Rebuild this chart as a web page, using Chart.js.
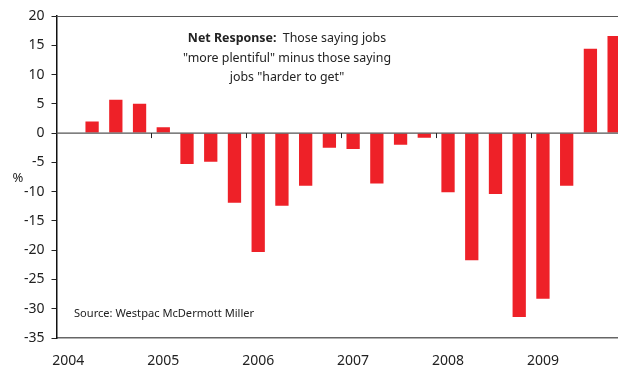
<!DOCTYPE html>
<html>
<head>
<meta charset="utf-8">
<script src="https://cdn.jsdelivr.net/npm/chart.js@4/dist/chart.umd.min.js"></script>
<style>
    html, body { margin: 0; padding: 0; background: #fff; overflow: hidden; }
    .chart-wrap { position: relative; width: 640px; height: 367px; }
</style>
</head>
<body>
<div class="chart-wrap">
    <canvas id="jobsChart"></canvas>
</div>
<script>
// 분기별 (2004 Q1 ~ 2009 Q4)
const quarters = [
    '2004 Q1', '2004 Q2', '2004 Q3', '2004 Q4',
    '2005 Q1', '2005 Q2', '2005 Q3', '2005 Q4',
    '2006 Q1', '2006 Q2', '2006 Q3', '2006 Q4',
    '2007 Q1', '2007 Q2', '2007 Q3', '2007 Q4',
    '2008 Q1', '2008 Q2', '2008 Q3', '2008 Q4',
    '2009 Q1', '2009 Q2', '2009 Q3', '2009 Q4'
];
const yearLabels = ['2004', '', '', '', '2005', '', '', '', '2006', '', '', '',
    '2007', '', '', '', '2008', '', '', '', '2009', '', '', ''];
const netResponse = [null, 2.0, 5.7, 5.0, 1.0, -5.3, -4.9, -11.9, -20.3, -12.4, -9.0, -2.5,
    -2.7, -8.6, -2.0, -0.8, -10.1, -21.7, -10.4, -31.4, -28.3, -9.0, 14.4, 16.6];
const yTicks = [20, 15, 10, 5, 0, -5, -10, -15, -20, -25, -30, -35];

const noteLines = [
    [{ text: 'Net Response:', bold: true }, { text: '  Those saying jobs', bold: false }],
    [{ text: '"more plentiful" minus those saying', bold: false }],
    [{ text: 'jobs "harder to get"', bold: false }]
];
const sourceText = 'Source: Westpac McDermott Miller';

const FONT = '"Noto Sans", "Open Sans", sans-serif';

// 0선 위 연도 구분 눈금, 상단 테두리, 텍스트
const overlayPlugin = {
    id: 'overlay',
    afterDatasetsDraw(chart) {
        const { ctx, chartArea, scales } = chart;
        const x = scales.x, y = scales.y;
        const y0 = y.getPixelForValue(0);
        const half = (x.getPixelForValue(1) - x.getPixelForValue(0)) / 2;

        ctx.save();
        // 상단 테두리
        ctx.strokeStyle = '#555';
        ctx.lineWidth = 1.2;
        ctx.beginPath();
        ctx.moveTo(chartArea.left, chartArea.top + 0.5);
        ctx.lineTo(chartArea.right, chartArea.top + 0.5);
        ctx.stroke();

        // 0선
        ctx.strokeStyle = '#555';
        ctx.lineWidth = 1.2;
        ctx.beginPath();
        ctx.moveTo(chartArea.left, y0);
        ctx.lineTo(chartArea.right, y0);
        ctx.stroke();

        // 연도 경계 눈금
        ctx.strokeStyle = '#222';
        ctx.lineWidth = 1;
        for (let i = 4; i < quarters.length; i += 4) {
            const px = Math.round(x.getPixelForValue(i) - half) + 0.5;
            ctx.beginPath();
            ctx.moveTo(px, y0);
            ctx.lineTo(px, y0 + 5);
            ctx.stroke();
        }

        // % 표시
        ctx.fillStyle = '#222';
        ctx.font = '13px ' + FONT;
        ctx.textAlign = 'center';
        ctx.textBaseline = 'middle';
        ctx.fillText('%', 18, 178);

        // 설명 문구
        const cx = 287;
        noteLines.forEach((parts, li) => {
            let total = 0;
            parts.forEach(p => {
                ctx.font = (p.bold ? 'bold ' : '') + '12.4px ' + FONT;
                p.w = ctx.measureText(p.text).width;
                total += p.w;
            });
            let sx = cx - total / 2;
            ctx.textAlign = 'left';
            parts.forEach(p => {
                ctx.font = (p.bold ? 'bold ' : '') + '12.4px ' + FONT;
                ctx.fillText(p.text, sx, 38.5 + li * 19.5);
                sx += p.w;
            });
        });

        // 출처
        ctx.font = '11.1px ' + FONT;
        ctx.textAlign = 'left';
        ctx.fillText(sourceText, 74, 314);
        ctx.restore();
    }
};

new Chart(document.getElementById('jobsChart'), {
    type: 'bar',
    data: {
        labels: quarters,
        datasets: [{
            data: netResponse,
            backgroundColor: '#EE2128',
            borderWidth: 0,
            categoryPercentage: 1,
            barPercentage: 0.56
        }]
    },
    options: {
        responsive: true,
        maintainAspectRatio: false,
        animation: false,
        layout: { padding: { top: 16, right: 14, left: 0, bottom: 0 } },
        plugins: {
            legend: { display: false },
            tooltip: { enabled: false }
        },
        scales: {
            x: {
                grid: { display: false, drawTicks: false },
                border: { display: true, color: '#666', width: 1.5 },
                ticks: {
                    autoSkip: false,
                    maxRotation: 0,
                    padding: 15,
                    color: '#222',
                    font: { family: FONT, size: 14 },
                    callback: (value, index) => yearLabels[index]
                },
                afterFit: axis => { axis.height = 29; }
            },
            y: {
                min: -35,
                max: 20,
                afterBuildTicks: axis => { axis.ticks = yTicks.map(v => ({ value: v })); },
                grid: {
                    drawOnChartArea: false,
                    drawTicks: true,
                    tickLength: 5,
                    tickColor: '#222'
                },
                border: { display: true, color: '#111', width: 1.5 },
                ticks: {
                    padding: 7,
                    color: '#222',
                    font: { family: FONT, size: 14 }
                },
                afterFit: axis => { axis.width = 56.5; }
            }
        }
    },
    plugins: [overlayPlugin]
});
</script>
</body>
</html>
